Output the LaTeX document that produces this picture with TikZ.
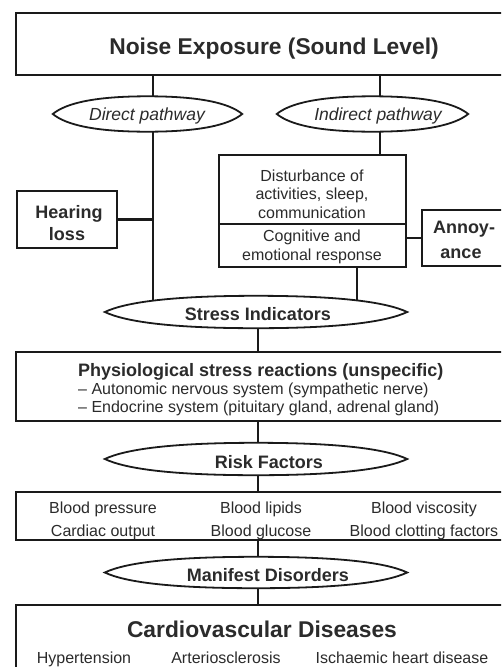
\documentclass[tikz,border=0pt]{standalone}
\usepackage{fontspec}
\setmainfont{Liberation Sans}
\usetikzlibrary{calc}
\pgfdeclarelayer{bg}
\pgfdeclarelayer{mid}
\pgfsetlayers{bg,mid,main}
\definecolor{linecol}{HTML}{1A1A1A}
\definecolor{txtcol}{HTML}{2B2B2B}
\newcommand\fsreg{\fontsize{16}{19}\selectfont}
\newcommand\fsbold{\fontsize{18}{22}\selectfont\bfseries}
\newcommand\fsbig{\fontsize{22.8}{27}\selectfont\bfseries}
\newcommand\fsital{\fontsize{17.5}{21}\selectfont\itshape}
\newcommand\lensdraw[2]{%
  \draw[lensline] (#1.west)
    .. controls ($(#1.west)!0.07!(#1.east)+(0,-#2)$) and ($(#1.north west)!0.45!(#1.north)$) .. (#1.north)
    .. controls ($(#1.north)!0.55!(#1.north east)$) and ($(#1.west)!0.93!(#1.east)+(0,-#2)$) .. (#1.east)
    .. controls ($(#1.west)!0.93!(#1.east)+(0,#2)$) and ($(#1.south)!0.55!(#1.south east)$) .. (#1.south)
    .. controls ($(#1.south west)!0.45!(#1.south)$) and ($(#1.west)!0.07!(#1.east)+(0,#2)$) .. (#1.west) -- cycle;}
\tikzset{
  boxnode/.style={draw=linecol, line width=1.8pt, rectangle, inner sep=0pt},
  lensnode/.style={draw=none, rectangle, inner sep=0pt},
  lensline/.style={draw=linecol, line width=1.8pt, fill=white},
  conn/.style={draw=linecol, line width=2.8pt},
  txt/.style={anchor=base, text=txtcol, inner sep=0pt, font=\fsreg},
  btxt/.style={txt, font=\fsbold},
  bigtxt/.style={txt, font=\fsbig},
  itxt/.style={txt, font=\fsital},
}
\begin{document}
\begin{tikzpicture}[x=1pt, y=-1pt]
\path[use as bounding box] (0,0) rectangle (501,667);
\clip (0,0) rectangle (501,667);
\begin{pgfonlayer}{bg}
\fill[white] (0,0) rectangle (501,667);
\end{pgfonlayer}

% boxes
\node[boxnode, minimum width=524pt, minimum height=62pt] (top) at (278,44) {};
\node[boxnode, minimum width=100pt, minimum height=57pt] (hear) at (67,219.5) {};
\node[boxnode, minimum width=187pt, minimum height=69pt] (dist1) at (312.5,189.5) {};
\node[boxnode, minimum width=187pt, minimum height=43pt] (dist2) at (312.5,245.5) {};
\node[boxnode, minimum width=98pt, minimum height=56pt] (ann) at (471,238) {};
\node[boxnode, minimum width=524pt, minimum height=69pt] (phys) at (278,386.5) {};
\node[boxnode, minimum width=524pt, minimum height=48pt] (risk) at (278,516) {};
\node[boxnode, minimum width=524pt, minimum height=100pt] (cvd) at (278,655) {};

% lens nodes
\node[lensnode, minimum width=189pt, minimum height=35pt] (direct) at (147.5,114) {};
\node[lensnode, minimum width=191pt, minimum height=35pt] (indirect) at (372.5,114) {};
\node[lensnode, minimum width=302pt, minimum height=32pt] (stress) at (256,312) {};
\node[lensnode, minimum width=302pt, minimum height=32pt] (riskf) at (256,459) {};
\node[lensnode, minimum width=302pt, minimum height=31pt] (manif) at (256,572.5) {};

% junction coordinates
\coordinate (jd) at (153,114);
\coordinate (ji) at (380,114);
\coordinate (jc) at (357,312);
\coordinate (jm) at (258,312);

% connectors
\begin{pgfonlayer}{bg}
\draw[conn] (top.south -| jd) -- (jd);
\draw[conn] (top.south -| ji) -- (ji);
\draw[conn] (jd) -- (jd |- stress.center);
\draw[conn] (hear.east) -- (hear.east -| jd);
\draw[conn] (ji) -- (ji |- dist1.north);
\draw[conn] (dist2.south -| jc) -- (jc);
\draw[conn] (ann.west) -- (ann.west -| dist2.east);
\draw[conn] (jm) -- (jm |- phys.north);
\draw[conn] (phys.south -| jm) -- (jm |- riskf.center);
\draw[conn] (jm |- riskf.center) -- (jm |- risk.north);
\draw[conn] (risk.south -| jm) -- (jm |- manif.center);
\draw[conn] (jm |- manif.center) -- (jm |- cvd.north);
\end{pgfonlayer}

% lens outlines
\begin{pgfonlayer}{mid}
\lensdraw{direct}{11}
\lensdraw{indirect}{11}
\lensdraw{stress}{10}
\lensdraw{riskf}{10}
\lensdraw{manif}{10}
\end{pgfonlayer}

% texts
\node[bigtxt] (tNoise) at (274,54) {Noise Exposure (Sound Level)};
\node[itxt] (tDirect) at (147,120) {Direct pathway};
\node[itxt] (tIndirect) at (378,120) {Indirect pathway};
\node[btxt] (tHear1) at (69,218) {Hearing};
\node[btxt] (tHear2) at (67,240) {loss};
\node[txt] (tD1) at (312,181) {Disturbance of};
\node[txt] (tD2) at (312,199) {activities, sleep,};
\node[txt] (tD3) at (312,218) {communication};
\node[txt] (tD4) at (312,241) {Cognitive and};
\node[txt] (tD5) at (312,260) {emotional response};
\node[btxt] (tA1) at (464,233) {Annoy-};
\node[btxt] (tA2) at (461,258) {ance};
\node[btxt] (tStress) at (258,320) {Stress Indicators};
\node[btxt, anchor=base west] (tP1) at (78,376) {Physiological stress reactions (unspecific)};
\node[txt, anchor=base west] (tP2) at (78,394) {– Autonomic nervous system (sympathetic nerve)};
\node[txt, anchor=base west] (tP3) at (78,412) {– Endocrine system (pituitary gland, adrenal gland)};
\node[btxt] (tRiskF) at (269,468) {Risk Factors};
\node[txt] (tR1) at (103,513) {Blood pressure};
\node[txt] (tR2) at (261,513) {Blood lipids};
\node[txt] (tR3) at (424,513) {Blood viscosity};
\node[txt] (tR4) at (103,536) {Cardiac output};
\node[txt] (tR5) at (261,536) {Blood glucose};
\node[txt] (tR6) at (424,536) {Blood clotting factors};
\node[btxt] (tManif) at (268,581) {Manifest Disorders};
\node[bigtxt] (tCVD) at (262,637) {Cardiovascular Diseases};
\node[txt] (tC1) at (84,663) {Hypertension};
\node[txt] (tC2) at (226,663) {Arteriosclerosis};
\node[txt] (tC3) at (402,663) {Ischaemic heart disease};
\end{tikzpicture}
\end{document}
